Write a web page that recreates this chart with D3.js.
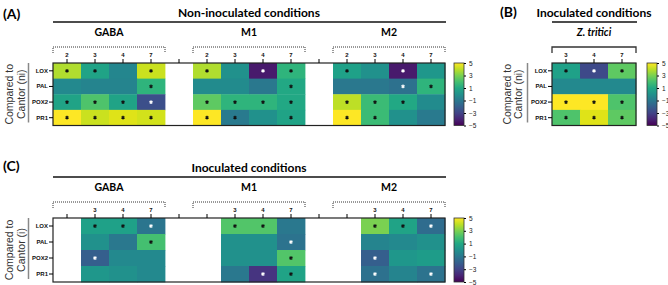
<!DOCTYPE html>
<html lang="en">
<head>
<meta charset="utf-8">
<script src="https://cdn.jsdelivr.net/npm/d3@7"></script>
<style>
  body { margin: 0; background: #fff; }
  svg text { font-family: Lato, "Open Sans", sans-serif; }
  .tick text { font-family: "Liberation Sans", Arial, sans-serif; font-weight: bold; font-size: 6px; fill: #111; }
  .cbar .tick text { font-weight: normal; font-size: 6.5px; fill: #222; }
  .ylab { font-family: "Liberation Sans", Arial, sans-serif !important; font-size: 10.5px; fill: #333; }
</style>
</head>
<body>
<script>

var genes = ["LOX", "PAL", "POX2", "PR1"];
var days = ["2", "3", "4", "7"];
var treatments = ["GABA", "M1", "M2"];
var daysZt = ["3", "4", "7"];
var cbarTicks = [-5, -3, -1, 1, 3, 5];

// (A) non-inoculated, rows = genes, columns = days 2,3,4,7
var niGABA = [[3.8, 0.8, -0.4, 4.2], [-0.3, -0.5, -0.5, 1.5], [0.8, 2.2, 0.8, -2.6], [5, 4.2, 4.5, 4.3]];
var niGABASig = [[1, 1, 0, 1], [0, 0, 0, 1], [1, 1, 1, 1], [1, 1, 1, 1]];
var niM1 = [[3.8, 0, -4.3, 1.5], [-0.2, -0.2, -1, 1.0], [2.5, 1.5, 1.5, 1.0], [5, -0.9, 0, 0.8]];
var niM1Sig = [[1, 0, 1, 1], [0, 0, 0, 1], [1, 1, 1, 1], [1, 1, 0, 1]];
var niM2 = [[0.7, 0, -4.3, 0.3], [-1, -1, -1.3, 1.5], [4, 1.8, 1.0, -0.2], [5, 1.8, 0, -0.9]];
var niM2Sig = [[1, 0, 1, 0], [0, 0, 1, 1], [1, 1, 1, 0], [1, 1, 0, 0]];

// (B) inoculated Z. tritici, columns = days 3,4,7
var iZt = [[0.7, -2.8, 2.5], [-0.3, -0.3, -0.3], [5, 5, 2.2], [2.2, 4.5, 2.5]];
var iZtSig = [[1, 1, 1], [0, 0, 0], [1, 1, 1], [1, 1, 1]];

// (C) inoculated, day 2 not measured
var iGABA = [[null, 0.7, 0.7, -1.1], [null, 0, -1, 2], [null, -2, -0.3, -0.3], [null, 0.3, 0, -0.3]];
var iGABASig = [[0, 1, 1, 1], [0, 0, 0, 1], [0, 1, 0, 0], [0, 0, 0, 0]];
var iM1 = [[null, 2.3, 2.3, -1], [null, 0, 0, -1.2], [null, 0, 0, 2.3], [null, -1, -3.5, 0.8]];
var iM1Sig = [[0, 1, 1, 0], [0, 0, 0, 1], [0, 0, 0, 1], [0, 0, 1, 1]];
var iM2 = [[null, 3, 0.8, -1.5], [null, -0.5, -0.3, 0], [null, -2, 0.3, 0.5], [null, -1.3, -0.5, -1.2]];
var iM2Sig = [[0, 1, 1, 1], [0, 0, 0, 0], [0, 1, 0, 0], [0, 1, 0, 1]];

var W = 668, H = 285;
var svg = d3.select("body").append("svg").attr("width", W).attr("height", H);
var color = d3.scaleSequential(d3.interpolateViridis).domain([-5, 5]);

// gradient for colour bars
var grad = svg.append("defs").append("linearGradient")
  .attr("id", "vgrad").attr("x1", 0).attr("y1", 1).attr("x2", 0).attr("y2", 0);
grad.selectAll("stop").data(d3.range(0, 1.001, 0.1)).enter().append("stop")
  .attr("offset", function(d) { return d; })
  .attr("stop-color", function(d) { return color(-5 + 10 * d); });

var star = d3.symbol().type(d3.symbolAsterisk).size(9);

function heatmap(o) {
  var g = svg.append("g");
  // columns with a blank separator between groups
  var cols = [];
  o.groups.forEach(function(gr, i) {
    o.colDays.forEach(function(d) { cols.push(gr.name + "|" + d); });
    if (i < o.groups.length - 1) cols.push("gap" + i);
  });
  var x = d3.scaleBand().domain(cols).range(o.xr);
  var y = d3.scaleBand().domain(genes).range(o.yr);

  var cells = [];
  o.groups.forEach(function(gr) {
    genes.forEach(function(gene, r) {
      o.colDays.forEach(function(d, c) {
        var v = gr.vals[r][c];
        if (v === null) return;
        cells.push({ col: gr.name + "|" + d, gene: gene, v: v, sig: gr.sig[r][c] });
      });
    });
  });
  var hasData = {};
  cells.forEach(function(c) { hasData[c.col] = true; });

  g.selectAll("rect.cell").data(cells).enter().append("rect")
    .attr("class", "cell")
    .attr("x", function(d) { return x(d.col); })
    .attr("y", function(d) { return y(d.gene); })
    .attr("width", x.bandwidth() + 0.4)
    .attr("height", y.bandwidth() + 0.4)
    .attr("fill", function(d) { return color(d.v); });

  g.selectAll("path.star").data(cells.filter(function(d) { return d.sig; })).enter().append("path")
    .attr("class", "star")
    .attr("d", star)
    .attr("transform", function(d) {
      return "translate(" + (x(d.col) + x.bandwidth() / 2) + "," + (y(d.gene) + y.bandwidth() / 2) + ")";
    })
    .attr("fill", "none")
    .attr("stroke-width", 1.1)
    .attr("stroke", function(d) { return d.v <= -1 ? "#fff" : "#111"; });

  // frame
  g.append("rect")
    .attr("x", o.xr[0]).attr("y", o.yr[0])
    .attr("width", o.xr[1] - o.xr[0]).attr("height", o.yr[1] - o.yr[0])
    .attr("fill", "none").attr("stroke", "#222").attr("stroke-width", 1.2);

  // top axis
  var top = g.append("g").attr("transform", "translate(0," + o.yr[0] + ")")
    .call(d3.axisTop(x).tickSize(4).tickPadding(2)
      .tickFormat(function(k) { return hasData[k] ? k.split("|")[1] : ""; }));
  top.select(".domain").remove();

  // left axis
  var left = g.append("g").attr("transform", "translate(" + o.xr[0] + ",0)")
    .call(d3.axisLeft(y).tickSize(4).tickPadding(1));
  left.select(".domain").remove();

  g.append("line")
    .attr("x1", o.yLineX).attr("x2", o.yLineX)
    .attr("y1", o.yr[0]).attr("y2", o.yr[1] - 3)
    .attr("stroke", "#888").attr("stroke-width", 1.5);

  var ym = (o.yr[0] + o.yr[1]) / 2;
  o.yLabel.forEach(function(t, i) {
    g.append("text").attr("class", "ylab")
      .attr("transform", "translate(" + o.yLabelX[i] + "," + ym + ") rotate(-90)")
      .attr("text-anchor", "middle").text(t);
  });

  // group brackets and names
  var bTop = o.yr[0] - 16, bBot = o.yr[0] - 10;
  o.groups.forEach(function(gr) {
    var x0 = x(gr.name + "|" + o.colDays[0]);
    var x1 = x(gr.name + "|" + o.colDays[o.colDays.length - 1]) + x.bandwidth();
    g.append("path")
      .attr("d", "M" + x0 + "," + bBot + "V" + bTop + "H" + x1 + "V" + bBot)
      .attr("fill", "none").attr("stroke", "#333")
      .attr("stroke-width", o.dotted ? 1 : 1.3)
      .attr("stroke-dasharray", o.dotted ? "1,1" : null);
    g.append("text")
      .attr("x", (x0 + x1) / 2).attr("y", bTop - 11)
      .attr("text-anchor", "middle")
      .attr("font-size", 10.5).attr("font-weight", 700)
      .attr("font-style", gr.italic ? "italic" : null)
      .text(gr.label || gr.name);
  });

  // title with rule
  g.append("line")
    .attr("x1", o.xr[0]).attr("x2", o.xr[1] + 1)
    .attr("y1", o.yr[0] - 41).attr("y2", o.yr[0] - 41)
    .attr("stroke", "#111").attr("stroke-width", 1.5);
  g.append("text")
    .attr("x", (o.xr[0] + o.xr[1]) / 2).attr("y", o.yr[0] - 46)
    .attr("text-anchor", "middle").attr("font-size", 12).attr("font-weight", 700)
    .text(o.title);
  g.append("text")
    .attr("x", o.tag[0]).attr("y", o.tag[1])
    .attr("font-size", 14).attr("font-weight", 700)
    .text(o.tagText);

  // colour bar
  var cy = d3.scaleLinear().domain([-5, 5]).range([o.yr[1], o.yr[0]]);
  var cb = g.append("g").attr("class", "cbar");
  cb.append("rect")
    .attr("x", o.cbarX).attr("y", o.yr[0]).attr("width", 10).attr("height", o.yr[1] - o.yr[0])
    .attr("fill", "url(#vgrad)").attr("stroke", "#333").attr("stroke-width", 0.8);
  var ca = cb.append("g").attr("transform", "translate(" + (o.cbarX + 10) + ",0)")
    .call(d3.axisRight(cy).tickValues(cbarTicks).tickSize(2).tickPadding(3));
  ca.select(".domain").remove();
}

heatmap({
  groups: [
    { name: "GABA", vals: niGABA, sig: niGABASig },
    { name: "M1", vals: niM1, sig: niM1Sig },
    { name: "M2", vals: niM2, sig: niM2Sig }
  ],
  colDays: days, xr: [53, 445], yr: [63, 125.5], dotted: true,
  title: "Non-inoculated conditions", tag: [3, 19], tagText: "(A)",
  yLabel: ["Compared to", "Cantor (ni)"], yLabelX: [13, 25], yLineX: 28.5,
  cbarX: 454
});

heatmap({
  groups: [{ name: "Zt", label: "Z. tritici", italic: true, vals: iZt, sig: iZtSig }],
  colDays: daysZt, xr: [552, 636], yr: [63, 125.5], dotted: false,
  title: "Inoculated conditions", tag: [500, 17], tagText: "(B)",
  yLabel: ["Compared to", "Cantor (ni)"], yLabelX: [511, 522], yLineX: 527.5,
  cbarX: 647
});

heatmap({
  groups: [
    { name: "GABA", vals: iGABA, sig: iGABASig },
    { name: "M1", vals: iM1, sig: iM1Sig },
    { name: "M2", vals: iM2, sig: iM2Sig }
  ],
  colDays: days, xr: [53, 445], yr: [218, 282], dotted: true,
  title: "Inoculated conditions", tag: [3, 171], tagText: "(C)",
  yLabel: ["Compared to", "Cantor (i)"], yLabelX: [13, 25], yLineX: 28.5,
  cbarX: 454
});

</script>
</body>
</html>
